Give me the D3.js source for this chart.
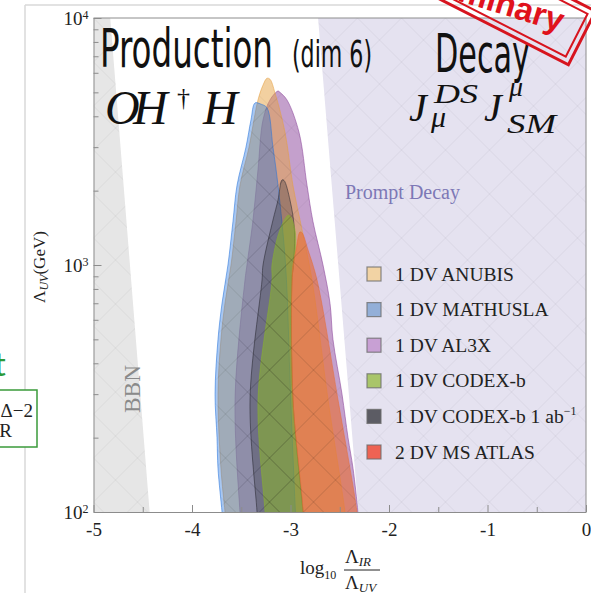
<!DOCTYPE html>
<html>
<head>
<meta charset="utf-8">
<script src="https://cdn.jsdelivr.net/npm/d3@7"></script>
<style>
body { margin: 0; background: #fff; }
svg text { font-family: "Liberation Serif", "DejaVu Serif", serif; }
</style>
</head>
<body>
<div id="chart"></div>
<script>
// legend order
var series = ["1 DV ANUBIS", "1 DV MATHUSLA", "1 DV AL3X", "1 DV CODEX-b", "1 DV CODEX-b 1 ab", "2 DV MS ATLAS"];

// region outlines: [log10(Λ_IR/Λ_UV), Λ_UV in GeV], left edge up to the peak, then right edge down
var anubis = [[-3.65, 85], [-3.665, 100], [-3.706, 150], [-3.736, 300], [-3.706, 500], [-3.665, 700], [-3.604, 1000],
    [-3.553, 1500], [-3.513, 2100], [-3.421, 3000], [-3.371, 3870], [-3.33, 4660], [-3.279, 5350], [-3.239, 5700],
    [-3.208, 5650], [-3.157, 4970], [-3.056, 3450], [-2.975, 2100], [-2.883, 1390], [-2.782, 870], [-2.619, 285],
    [-2.447, 100], [-2.43, 85]];
var mathusla = [[-3.68, 85], [-3.695, 100], [-3.736, 150], [-3.746, 200], [-3.766, 300], [-3.736, 500], [-3.695, 700],
    [-3.635, 1000], [-3.584, 1500], [-3.543, 2100], [-3.452, 3000], [-3.401, 3870], [-3.36, 4530], [-3.30, 4480],
    [-3.239, 4330], [-3.178, 3000], [-3.127, 2100], [-3.05, 1000], [-3.0, 300], [-2.95, 100], [-2.94, 85]];
var al3x = [[-3.5, 85], [-3.513, 100], [-3.563, 285], [-3.462, 870], [-3.442, 1000], [-3.381, 1520], [-3.33, 2430],
    [-3.279, 3870], [-3.208, 4660], [-3.127, 5060], [-3.107, 5000], [-3.036, 4660], [-2.914, 3450], [-2.832, 2100],
    [-2.772, 1500], [-2.67, 1000], [-2.599, 700], [-2.569, 500], [-2.477, 300], [-2.416, 200], [-2.365, 150],
    [-2.315, 100], [-2.30, 85]];
var codexb = [[-3.25, 85], [-3.259, 100], [-3.33, 285], [-3.188, 870], [-3.188, 1000], [-3.107, 1390], [-3.025, 1590],
    [-3.005, 1580], [-2.955, 1390], [-2.95, 1150], [-2.97, 1000], [-2.985, 870], [-2.975, 285], [-2.873, 100], [-2.86, 85]];
var codexb1ab = [[-3.33, 85], [-3.34, 100], [-3.411, 285], [-3.289, 870], [-3.279, 1000], [-3.178, 1520], [-3.127, 1830],
    [-3.086, 2210], [-3.066, 2200], [-3.005, 1830], [-2.96, 1390], [-2.97, 1000], [-2.985, 870], [-2.975, 285],
    [-2.873, 100], [-2.86, 85]];
var msatlas = [[-2.88, 85], [-2.873, 100], [-2.975, 285], [-2.985, 870], [-2.975, 1000], [-2.944, 1150], [-2.904, 1360],
    [-2.883, 1350], [-2.822, 1150], [-2.731, 870], [-2.518, 285], [-2.325, 100], [-2.31, 85]];

// excluded bands
var bbnEdge = [[-4.83, 10000], [-4.43, 100]];
var promptEdge = [[-2.72, 10000], [-2.31, 100]];

var xMajor = [-5, -4, -3, -2, -1, 0];
var xMinor = [-4.5, -3.5, -2.5, -1.5, -0.5];
var yMajor = [100, 1000, 10000];
var yMinor = [200, 300, 400, 500, 600, 700, 800, 900, 2000, 3000, 4000, 5000, 6000, 7000, 8000, 9000];

// drawing order of the regions
var regions = [al3x, anubis, mathusla, codexb1ab, codexb, msatlas];
var regionNames = [series[2], series[0], series[1], series[4], series[3], series[5]];

// styles
var fills = ["#e5a141", "#2573dc", "#894199", "#89b130", "#282832", "#e66e34"];
var fillOp = [0.5, 0.4, 0.5, 0.6, 0.3, 0.62];
var swatches = ["#f2d3a4", "#93afd8", "#c8a0d4", "#a9c56a", "#5c5c64", "#ee6353"];

var width = 591, height = 593;
var svg = d3.select("#chart").append("svg")
    .attr("width", width)
    .attr("height", height);

var x = d3.scaleLinear().domain([-5, 0]).range([93.5, 586]);
var y = d3.scaleLog().domain([100, 10000]).range([512, 18]);
var color = d3.scaleOrdinal().domain(series).range(fills);
var opac = d3.scaleOrdinal().domain(series).range(fillOp);
var swatch = d3.scaleOrdinal().domain(series).range(swatches);

// slide frame bits
svg.append("line").attr("x1", 25).attr("x2", 25).attr("y1", 5).attr("y2", height)
    .attr("stroke", "#d9d9d9").attr("stroke-width", 1.5);
svg.append("line").attr("x1", 25).attr("x2", width).attr("y1", 5).attr("y2", 5)
    .attr("stroke", "#d9d9d9").attr("stroke-width", 1.5);

// bits of the neighbouring slide content
svg.append("text").attr("x", 0).attr("y", 376).attr("text-anchor", "middle")
    .style("font-family", "Lato, 'Open Sans', sans-serif").attr("font-size", 32).attr("fill", "#2a9a3a").text("t");
svg.append("rect").attr("x", -20).attr("y", 390).attr("width", 57).attr("height", 57)
    .attr("fill", "#fff").attr("stroke", "#3a9a3a").attr("stroke-width", 1.5);
svg.append("text").attr("x", 33).attr("y", 417).attr("text-anchor", "end").attr("font-size", 19).attr("fill", "#222").text("Δ−2");
svg.append("text").attr("x", 12).attr("y", 437).attr("text-anchor", "end").attr("font-size", 19).attr("fill", "#222").text("R");

var defs = svg.append("defs");
defs.append("clipPath").attr("id", "plot")
    .append("rect").attr("x", x(-5)).attr("y", y(10000)).attr("width", x(0) - x(-5)).attr("height", y(100) - y(10000));

var pat = defs.append("pattern").attr("id", "mesh").attr("patternUnits", "userSpaceOnUse")
    .attr("x", x(-5)).attr("y", y(10000)).attr("width", 44).attr("height", 44);
pat.append("path").attr("d", "M0,0L44,44M44,0L0,44").attr("stroke", "#000").attr("stroke-opacity", 0.05).attr("stroke-width", 1);

var plot = svg.append("g").attr("clip-path", "url(#plot)");

var bbnPath = "M" + x(-5) + "," + y(10000) + "L" + x(bbnEdge[0][0]) + "," + y(bbnEdge[0][1]) +
    "L" + x(bbnEdge[1][0]) + "," + y(bbnEdge[1][1]) + "L" + x(-5) + "," + y(100) + "Z";
var promptPath = "M" + x(promptEdge[0][0]) + "," + y(promptEdge[0][1]) + "L" + x(0) + "," + y(10000) +
    "L" + x(0) + "," + y(100) + "L" + x(promptEdge[1][0]) + "," + y(promptEdge[1][1]) + "Z";

plot.append("path").attr("d", bbnPath).attr("fill", "#e6e6e6");
plot.append("path").attr("d", promptPath).attr("fill", "#e5e2f0");

var line = d3.line()
    .x(function (d) { return x(d[0]); })
    .y(function (d) { return y(d[1]); })
    .curve(d3.curveCatmullRom.alpha(0.5));

plot.selectAll(".region")
    .data(regions)
    .enter().append("path")
    .attr("class", "region")
    .attr("d", function (d) { return line(d) + "Z"; })
    .attr("fill", function (d, i) { return color(regionNames[i]); })
    .attr("fill-opacity", function (d, i) { return opac(regionNames[i]); })
    .attr("stroke", function (d, i) { return color(regionNames[i]); })
    .attr("stroke-opacity", 0.55)
    .attr("stroke-width", 1);

// faint mesh over the filled areas
plot.append("path").attr("d", bbnPath).attr("fill", "url(#mesh)");
plot.append("path").attr("d", promptPath).attr("fill", "url(#mesh)");
plot.selectAll(".mesh")
    .data(regions)
    .enter().append("path")
    .attr("class", "mesh")
    .attr("d", function (d) { return line(d) + "Z"; })
    .attr("fill", "url(#mesh)");

plot.append("text").attr("x", 345).attr("y", 199).attr("font-size", 20).attr("fill", "#7d78b6").text("Prompt Decay");
plot.append("text").attr("transform", "translate(140,389) rotate(-90)").attr("text-anchor", "middle")
    .attr("font-size", 24).attr("textLength", 48).attr("lengthAdjust", "spacingAndGlyphs")
    .attr("fill", "#8a8a8a").text("BBN");

// legend
var legend = svg.selectAll(".legend")
    .data(series)
    .enter().append("g")
    .attr("class", "legend")
    .attr("transform", function (d, i) { return "translate(367," + (274 + i * 35.6) + ")"; });
legend.append("rect").attr("x", 0).attr("y", -7).attr("width", 14).attr("height", 14)
    .attr("fill", function (d) { return swatch(d); })
    .attr("stroke", "#6e6e6e").attr("stroke-opacity", 0.8).attr("stroke-width", 1.2);
var lt = legend.append("text").attr("x", 28).attr("y", 6.5).attr("font-size", 19.5).attr("fill", "#222")
    .text(function (d) { return d; });
lt.filter(function (d) { return d === "1 DV CODEX-b 1 ab"; })
    .append("tspan").attr("dy", -8).attr("font-size", 12).text("−1");

// axes
svg.append("g").attr("transform", "translate(0," + y(100) + ")")
    .call(d3.axisBottom(x).tickValues(xMajor).tickSizeInner(-7).tickSizeOuter(0).tickPadding(11)
        .tickFormat(function (d) { return d === 0 ? "0" : "-" + Math.abs(d); }));
svg.append("g").attr("transform", "translate(0," + y(100) + ")")
    .call(d3.axisBottom(x).tickValues(xMinor).tickSizeInner(-5).tickSizeOuter(0).tickFormat(""))
    .select(".domain").remove();

var yAxis = svg.append("g").attr("transform", "translate(" + x(-5) + ",0)")
    .call(d3.axisLeft(y).tickValues(yMajor).tickSizeInner(-8).tickSizeOuter(0).tickPadding(5).tickFormat(""));
svg.append("g").attr("transform", "translate(" + x(-5) + ",0)")
    .call(d3.axisLeft(y).tickValues(yMinor).tickSizeInner(-5).tickSizeOuter(0).tickFormat(""))
    .select(".domain").remove();

yAxis.selectAll(".tick text").each(function (d) {
    var t = d3.select(this).attr("dy", "0.32em");
    t.append("tspan").text("10");
    t.append("tspan").attr("dy", -6).attr("font-size", 12).text(Math.round(Math.log10(d)));
});

svg.selectAll(".tick line, .domain").attr("stroke", "#8c8c8c");
svg.selectAll(".tick text").attr("font-family", "Liberation Serif, serif").attr("font-size", 19).attr("fill", "#222");
yAxis.selectAll(".tick text tspan:last-child").attr("font-size", 12);

// top and right frame
svg.append("line").attr("x1", x(-5)).attr("x2", x(0)).attr("y1", y(10000)).attr("y2", y(10000)).attr("stroke", "#8c8c8c");
svg.append("line").attr("x1", x(0)).attr("x2", x(0)).attr("y1", y(10000)).attr("y2", y(100)).attr("stroke", "#8c8c8c");

// axis titles
var xl = svg.append("g").attr("fill", "#222");
xl.append("text").attr("x", 300).attr("y", 574).attr("font-size", 19).text("log")
    .append("tspan").attr("font-size", 12).attr("dy", 5).text("10");
xl.append("text").attr("x", 345).attr("y", 563).attr("font-size", 19).text("Λ")
    .append("tspan").attr("font-size", 13).attr("font-style", "italic").attr("dy", 3).text("IR");
xl.append("line").attr("x1", 344).attr("x2", 380).attr("y1", 570).attr("y2", 570).attr("stroke", "#222").attr("stroke-width", 1);
xl.append("text").attr("x", 345).attr("y", 589).attr("font-size", 19).text("Λ")
    .append("tspan").attr("font-size", 13).attr("font-style", "italic").attr("dy", 3).text("UV");

var yl = svg.append("text").attr("transform", "translate(45,267) rotate(-90)").attr("text-anchor", "middle")
    .attr("font-size", 17).attr("fill", "#222");
yl.append("tspan").text("Λ");
yl.append("tspan").attr("font-size", 12).attr("font-style", "italic").attr("dy", 3).text("UV");
yl.append("tspan").attr("dy", -3).text("(GeV)");

// titles
var cond = "'Liberation Sans Narrow', 'DejaVu Sans Condensed', 'DejaVu Sans', sans-serif";
svg.append("text").attr("x", 100).attr("y", 67).style("font-family", cond).attr("font-size", 53)
    .attr("textLength", 173).attr("lengthAdjust", "spacingAndGlyphs").attr("fill", "#111").text("Production");
svg.append("text").attr("x", 292).attr("y", 67).style("font-family", cond).attr("font-size", 38)
    .attr("textLength", 80).attr("lengthAdjust", "spacingAndGlyphs").attr("fill", "#111").text("(dim 6)");
svg.append("text").attr("x", 435).attr("y", 72).style("font-family", cond).attr("font-size", 53)
    .attr("textLength", 95).attr("lengthAdjust", "spacingAndGlyphs").attr("fill", "#111").text("Decay");

var op = svg.append("g").attr("font-style", "italic").attr("fill", "#111");
op.append("text").attr("x", 105).attr("y", 124).attr("font-size", 48).text("O");
op.append("text").attr("x", 133).attr("y", 124).attr("font-size", 48).text("H");
op.append("text").attr("x", 177).attr("y", 106).attr("font-size", 26).attr("font-style", "normal").text("†");
op.append("text").attr("x", 203).attr("y", 124).attr("font-size", 48).text("H");

var jj = svg.append("g").attr("font-style", "italic").attr("fill", "#111");
jj.append("text").attr("x", 409).attr("y", 121).attr("font-size", 40).text("J");
jj.append("text").attr("x", 434).attr("y", 103).attr("font-size", 28).attr("textLength", 44)
    .attr("lengthAdjust", "spacingAndGlyphs").text("DS");
jj.append("text").attr("x", 431).attr("y", 127).attr("font-size", 30).text("μ");
jj.append("text").attr("x", 484).attr("y", 121).attr("font-size", 40).text("J");
jj.append("text").attr("x", 509).attr("y", 96).attr("font-size", 28).text("μ");
jj.append("text").attr("x", 507).attr("y", 133).attr("font-size", 28).attr("textLength", 49)
    .attr("lengthAdjust", "spacingAndGlyphs").text("SM");

// preliminary stamp
var stamp = svg.append("g").attr("transform", "translate(484,-12) rotate(27)");
stamp.append("rect").attr("x", -110).attr("y", -30).attr("width", 220).attr("height", 60)
    .attr("fill", "none").attr("stroke", "#d7141e").attr("stroke-width", 3);
stamp.append("rect").attr("x", -104).attr("y", -24).attr("width", 208).attr("height", 48)
    .attr("fill", "none").attr("stroke", "#d7141e").attr("stroke-width", 2);
svg.append("text").attr("transform", "translate(560,32) rotate(17)").attr("text-anchor", "end")
    .style("font-family", "'Liberation Sans', Arial, sans-serif").attr("font-weight", "bold")
    .attr("font-size", 33).attr("fill", "#e0121c").text("Preliminary");
</script>
</body>
</html>
